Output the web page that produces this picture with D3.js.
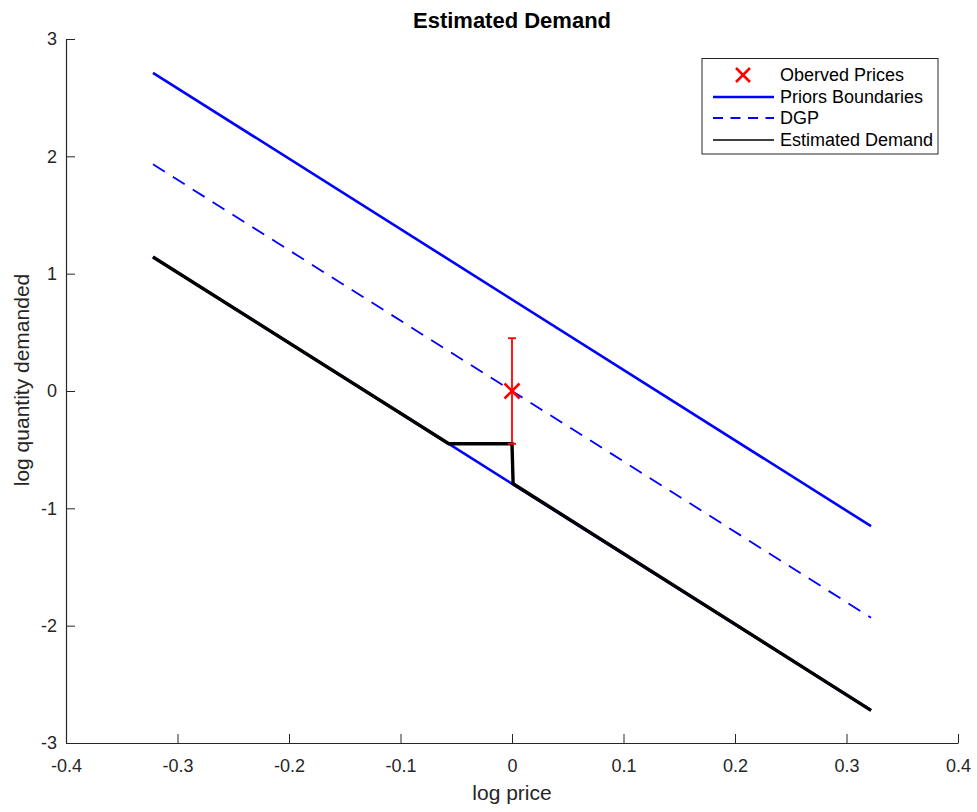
<!DOCTYPE html>
<html><head><meta charset="utf-8">
<script src="https://cdn.jsdelivr.net/npm/d3@7"></script>
<style>body{margin:0;background:#fff;} text{font-family:"Liberation Sans",Arial,Helvetica,sans-serif;}</style>
</head><body>
<svg id="c" width="977" height="812"></svg>
<script>
// data
const xTicks = [-0.4,-0.3,-0.2,-0.1,0,0.1,0.2,0.3,0.4];
const yTicks = [-3,-2,-1,0,1,2,3];
const upperBoundary = [[-0.322, 2.712],[0.322, -1.152]];
const lowerBoundary = [[-0.322, 1.142],[0.322, -2.722]];
const dgp = [[-0.322, 1.932],[0.322, -1.932]];
const estimatedDemand = [[-0.322, 1.142],[-0.0567, -0.45],[0, -0.45],[0.001, -0.79],[0.322, -2.722]];
const observedPrice = [{x:0, y:0, lo:-0.45, hi:0.45}];
const legendLabels = ["Oberved Prices","Priors Boundaries","DGP","Estimated Demand"];

const svg = d3.select("#c");
const L=66, R=958, T=39, B=743;
const x = d3.scaleLinear().domain([-0.4,0.4]).range([L,R]);
const y = d3.scaleLinear().domain([-3,3]).range([B,T]);
const axisCol = "#262626";
const fmt = d => String(+(+d).toFixed(1));

// axes
const xa = svg.append("g").attr("transform",`translate(0,${B})`)
  .call(d3.axisBottom(x).tickValues(xTicks).tickSizeInner(-9).tickSizeOuter(0).tickPadding(16).tickFormat(fmt));
const ya = svg.append("g").attr("transform",`translate(${L},0)`)
  .call(d3.axisLeft(y).tickValues(yTicks).tickSizeInner(-9).tickSizeOuter(0).tickPadding(9).tickFormat(fmt));
[xa,ya].forEach(a=>{
  a.select(".domain").attr("stroke",axisCol).attr("stroke-width",1.2);
  a.selectAll(".tick line").attr("stroke",axisCol).attr("stroke-width",1);
  a.selectAll(".tick text").attr("fill",axisCol).style("font-size","18px").style("font-family","'Liberation Sans',Arial,sans-serif");
});
xa.selectAll(".tick text").attr("dy","0.71em");

const line = d3.line().x(d=>x(d[0])).y(d=>y(d[1]));
svg.append("path").attr("d",line(upperBoundary)).attr("fill","none").attr("stroke","#0000ff").attr("stroke-width",2.6);
svg.append("path").attr("d",line(lowerBoundary)).attr("fill","none").attr("stroke","#0000ff").attr("stroke-width",2.6);
svg.append("path").attr("d",line(dgp)).attr("fill","none").attr("stroke","#0000ff").attr("stroke-width",1.8).attr("stroke-dasharray","14,9.5");
svg.append("path").attr("d",line(estimatedDemand)).attr("fill","none").attr("stroke","#000").attr("stroke-width",3.4).attr("stroke-linejoin","miter");

// error bar
observedPrice.forEach(p=>{
  const g = svg.append("g").attr("stroke","#ff0000");
  g.append("line").attr("x1",x(p.x)).attr("x2",x(p.x)).attr("y1",y(p.lo)).attr("y2",y(p.hi)).attr("stroke-width",1.8);
  [p.lo,p.hi].forEach(v=>g.append("line").attr("x1",x(p.x)-4).attr("x2",x(p.x)+4).attr("y1",y(v)).attr("y2",y(v)).attr("stroke-width",1.8));
  const s=7.5;
  g.append("path").attr("d",`M${x(p.x)-s},${y(p.y)-s}L${x(p.x)+s},${y(p.y)+s}M${x(p.x)-s},${y(p.y)+s}L${x(p.x)+s},${y(p.y)-s}`).attr("stroke-width",2.6);
});

// title & labels
svg.append("text").attr("x",512).attr("y",28).attr("text-anchor","middle").style("font-size","22px").style("font-weight","bold").attr("fill","#000").text("Estimated Demand");
svg.append("text").attr("x",512).attr("y",800).attr("text-anchor","middle").style("font-size","21px").attr("fill",axisCol).text("log price");
svg.append("text").attr("transform","translate(29,380) rotate(-90)").attr("text-anchor","middle").style("font-size","21px").attr("fill",axisCol).text("log quantity demanded");

// legend
const lg = svg.append("g");
lg.append("rect").attr("x",702).attr("y",58.5).attr("width",236).attr("height",95.5).attr("fill","#fff").attr("stroke","#262626").attr("stroke-width",1);
const rows=[75,97,118,140];
legendLabels.forEach((t,i)=>{
  const ry=rows[i];
  if(i===0){
    const cx=743,s=7;
    lg.append("path").attr("d",`M${cx-s},${ry-s}L${cx+s},${ry+s}M${cx-s},${ry+s}L${cx+s},${ry-s}`).attr("stroke","#ff0000").attr("stroke-width",2.6);
  } else if(i===1){
    lg.append("line").attr("x1",713).attr("x2",774).attr("y1",ry).attr("y2",ry).attr("stroke","#0000ff").attr("stroke-width",2.6);
  } else if(i===2){
    lg.append("line").attr("x1",713).attr("x2",774).attr("y1",ry).attr("y2",ry).attr("stroke","#0000ff").attr("stroke-width",1.8).attr("stroke-dasharray","10,7.5");
  } else {
    lg.append("line").attr("x1",713).attr("x2",774).attr("y1",ry).attr("y2",ry).attr("stroke","#000").attr("stroke-width",1.6);
  }
  lg.append("text").attr("x",780).attr("y",ry).attr("dy","0.35em").style("font-size","18px").attr("fill","#000").text(t);
});
</script>
</body></html>
